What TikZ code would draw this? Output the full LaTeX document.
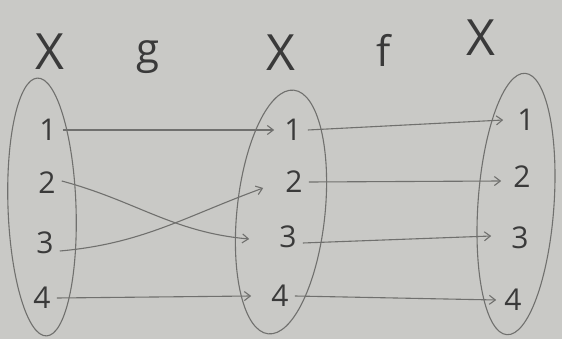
\documentclass[tikz,border=0pt]{standalone}
\usepackage{fontspec}
\setsansfont{Open Sans}
\usepackage{xcolor}
\usetikzlibrary{shapes.geometric, arrows.meta, positioning}
\definecolor{paper}{RGB}{201,201,198}
\definecolor{pencil}{RGB}{112,112,110}
\definecolor{ink}{RGB}{58,58,58}

\begin{document}
\begin{tikzpicture}[x=1pt, y=-1pt,
    setring/.style={ellipse, draw=pencil, line width=1.1pt, inner sep=0pt},
    elem/.style={text=ink, font=\sffamily\fontsize{30}{30}\selectfont, inner sep=6pt},
    setname/.style={text=ink, font=\sffamily\fontsize{50}{50}\selectfont, inner sep=0pt},
    mapname/.style={text=ink, font=\sffamily\fontsize{42}{42}\selectfont, inner sep=0pt},
    maparrow/.style={-{Straight Barb[length=6pt, width=9pt]}, draw=pencil, line width=1.1pt}]
    \path[use as bounding box, fill=paper] (0,0) rectangle (562,339);

    % Sets
    \node[setring, minimum width=68pt, minimum height=258pt, rotate=2] (setA) at (42,207) {};
    \node[setring, minimum width=88pt, minimum height=245pt, rotate=-6] (setB) at (281,212) {};
    \node[setring, minimum width=76pt, minimum height=262pt, rotate=-4] (setC) at (516,204) {};

    % Titles
    \node[setname] (xA) at (50,52) {X};
    \node[mapname] (g) at (148,57) {g};
    \node[setname] (xB) at (281,53) {X};
    \node[mapname] (f) at (384,50) {f};
    \node[setname] (xC) at (481,38) {X};

    % Elements
    \node[elem] (a1) at (48,130) {1};
    \node[elem] (a2) at (47,183) {2};
    \node[elem] (a3) at (45,243) {3};
    \node[elem] (a4) at (42,298) {4};

    \node[elem] (b1) at (293,130) {1};
    \node[elem] (b2) at (294,182) {2};
    \node[elem] (b3) at (288,237) {3};
    \node[elem] (b4) at (280,296) {4};

    \node[elem] (c1) at (526,120) {1};
    \node[elem] (c2) at (522,177) {2};
    \node[elem] (c3) at (520,238) {3};
    \node[elem] (c4) at (513,300) {4};

    % g
    \draw[maparrow] (a1.east) -- ([xshift=-4pt]b1.west);
    \draw[maparrow] ([yshift=2pt]a2.east) to[out=-15, in=175] ([xshift=-24pt, yshift=-2pt]b3.west);
    \draw[maparrow] ([yshift=-8pt]a3.east) to[out=5, in=200] ([xshift=-16pt, yshift=-6pt]b2.west);
    \draw[maparrow] (a4.east) -- ([xshift=-14pt]b4.west);

    % f
    \draw[maparrow] (b1.east) -- ([xshift=-8pt]c1.west);
    \draw[maparrow] (b2.east) -- ([xshift=-6pt, yshift=-4pt]c2.west);
    \draw[maparrow] ([yshift=-6pt]b3.east) -- ([xshift=-14pt, yshift=2pt]c3.west);
    \draw[maparrow] (b4.east) -- ([xshift=-2pt]c4.west);
\end{tikzpicture}
\end{document}
